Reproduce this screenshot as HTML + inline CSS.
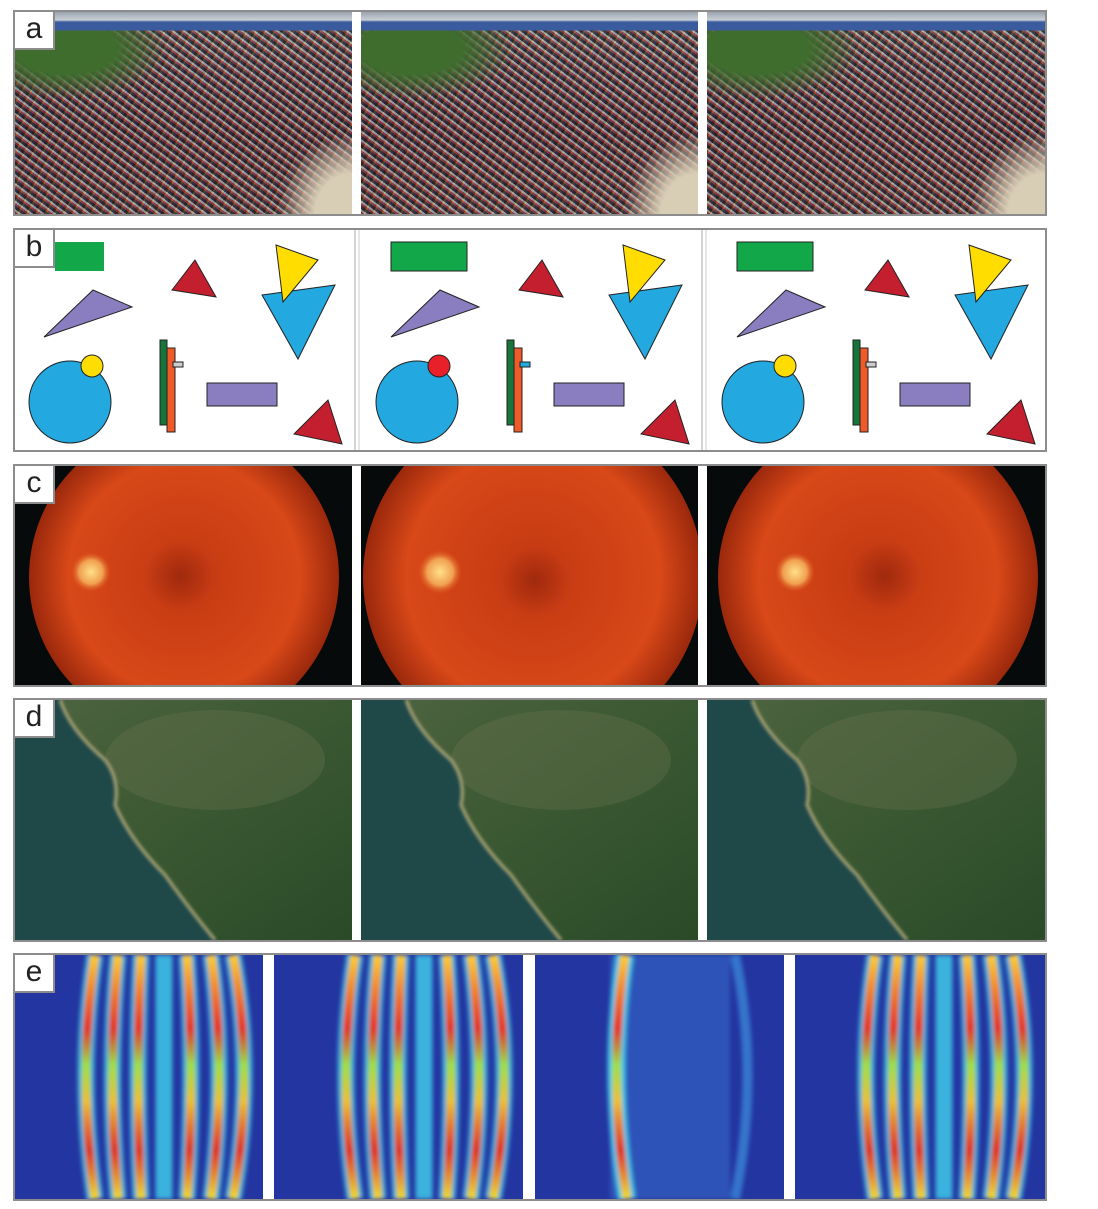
<!DOCTYPE html>
<html><head><meta charset="utf-8"><style>
html,body{margin:0;padding:0;background:#fff;}
body{width:1098px;height:1209px;position:relative;overflow:hidden;font-family:"Liberation Sans",sans-serif;}
.panel{position:absolute;left:13px;width:1030px;border:2px solid #8c8c8c;background:#fff;}
.img{position:absolute;top:0;bottom:0;overflow:hidden;}
.lbl{position:absolute;left:0;top:0;width:38px;height:36px;background:#fff;border-right:2px solid #8c8c8c;border-bottom:2px solid #8c8c8c;font-size:30px;line-height:34px;text-align:center;color:#222;z-index:5;}
.crowd{background:
 linear-gradient(180deg,#9aa3ad 0,#c9ced6 8px,#3a5b9e 10px,#3a5b9e 18px,transparent 19px),
 radial-gradient(ellipse 30% 25% at 15% 18%,#3f6d2e 0,#3f6d2e 50%,transparent 100%),
 radial-gradient(ellipse 22% 40% at 100% 100%,#d8cdb5 0,#d8cdb5 50%,transparent 100%),
 repeating-linear-gradient(37deg,rgba(210,40,40,.45) 0 2px,rgba(245,245,245,.45) 2px 4px,rgba(20,20,30,.5) 4px 7px),
 repeating-linear-gradient(-61deg,rgba(60,80,170,.35) 0 3px,rgba(240,200,60,.3) 3px 5px,rgba(20,20,20,.4) 5px 8px),
 linear-gradient(180deg,#6b7a63 0,#555 25%,#4a3d3d 60%,#5a5048 100%);}
</style></head><body>

<!-- panel a -->
<div class="panel" style="top:10px;height:202px;">
 <div class="lbl">a</div>
 <div class="img crowd" style="left:0;width:337px;"></div>
 <div class="img crowd" style="left:346px;width:337px;"></div>
 <div class="img crowd" style="left:692px;width:338px;"></div>
</div>

<!-- panel b -->
<div class="panel" style="top:228px;height:220px;">
 <div class="lbl">b</div>
 <svg width="1030" height="220" style="position:absolute;left:0;top:0">
  <line x1="340" y1="0" x2="340" y2="220" stroke="#aaa" stroke-width="1"/><line x1="344" y1="0" x2="344" y2="220" stroke="#ccc" stroke-width="1"/>
  <line x1="687" y1="0" x2="687" y2="220" stroke="#aaa" stroke-width="1"/><line x1="691" y1="0" x2="691" y2="220" stroke="#ccc" stroke-width="1"/>
  <g transform="translate(-15,-228)" stroke="#222" stroke-width="1">
   <rect x="55" y="240" width="49" height="29" fill="#12a84a" stroke="none"/>
   <polygon points="172,288 195,258 216,295" fill="#c41f2e"/>
   <polygon points="44,335 93,288 132,305" fill="#8a7ec0"/>
   <polygon points="262,293 335,283 298,357" fill="#23a8e0"/>
   <polygon points="276,243 318,258 283,300" fill="#ffdd00"/>
   <circle cx="70" cy="400" r="41" fill="#23a8e0"/>
   <circle cx="92" cy="364" r="11" fill="#ffdd00"/>
   <rect x="160" y="338" width="7" height="85" fill="#17743a"/>
   <rect x="167" y="346" width="8" height="84" fill="#ef5a28"/>
   <rect x="173" y="360" width="10" height="5" fill="#ccc"/>
   <rect x="207" y="381" width="70" height="23" fill="#8a7ec0"/>
   <polygon points="294,432 328,398 342,442" fill="#c41f2e"/>
  </g>
  <g transform="translate(332,-228)" stroke="#222" stroke-width="1">
   <rect x="44" y="240" width="76" height="29" fill="#12a84a"/>
   <polygon points="172,288 195,258 216,295" fill="#c41f2e"/>
   <polygon points="44,335 93,288 132,305" fill="#8a7ec0"/>
   <polygon points="262,293 335,283 298,357" fill="#23a8e0"/>
   <polygon points="276,243 318,258 283,300" fill="#ffdd00"/>
   <circle cx="70" cy="400" r="41" fill="#23a8e0"/>
   <circle cx="92" cy="364" r="11" fill="#e8202a"/>
   <rect x="160" y="338" width="7" height="85" fill="#17743a"/>
   <rect x="167" y="346" width="8" height="84" fill="#ef5a28"/>
   <rect x="173" y="360" width="10" height="5" fill="#23a8e0"/>
   <rect x="207" y="381" width="70" height="23" fill="#8a7ec0"/>
   <polygon points="294,432 328,398 342,442" fill="#c41f2e"/>
  </g>
  <g transform="translate(678,-228)" stroke="#222" stroke-width="1">
   <rect x="44" y="240" width="76" height="29" fill="#12a84a"/>
   <polygon points="172,288 195,258 216,295" fill="#c41f2e"/>
   <polygon points="44,335 93,288 132,305" fill="#8a7ec0"/>
   <polygon points="262,293 335,283 298,357" fill="#23a8e0"/>
   <polygon points="276,243 318,258 283,300" fill="#ffdd00"/>
   <circle cx="70" cy="400" r="41" fill="#23a8e0"/>
   <circle cx="92" cy="364" r="11" fill="#ffdd00"/>
   <rect x="160" y="338" width="7" height="85" fill="#17743a"/>
   <rect x="167" y="346" width="8" height="84" fill="#ef5a28"/>
   <rect x="173" y="360" width="10" height="5" fill="#ccc"/>
   <rect x="207" y="381" width="70" height="23" fill="#8a7ec0"/>
   <polygon points="294,432 328,398 342,442" fill="#c41f2e"/>
  </g>
 </svg>
</div>

<!-- panel c -->
<div class="panel" style="top:464px;height:219px;">
 <div class="lbl">c</div>
 <svg width="1030" height="219" style="position:absolute;left:0;top:0">
  <defs>
   <radialGradient id="fg" cx="0.5" cy="0.5" r="0.5"><stop offset="0" stop-color="#c23812"/><stop offset="0.75" stop-color="#d84818"/><stop offset="1" stop-color="#9a280c"/></radialGradient>
   <radialGradient id="disc"><stop offset="0" stop-color="#ffe08a"/><stop offset="0.6" stop-color="#f0a050"/><stop offset="1" stop-color="#e25a20" stop-opacity="0"/></radialGradient>
   <radialGradient id="fov"><stop offset="0" stop-color="#8a200a" stop-opacity=".6"/><stop offset="1" stop-color="#8a200a" stop-opacity="0"/></radialGradient>
  </defs>
  <rect x="0" y="0" width="337" height="219" fill="#060a0a"/>
  <rect x="346" y="0" width="337" height="219" fill="#060a0a"/>
  <rect x="692" y="0" width="338" height="219" fill="#060a0a"/>
  <clipPath id="c1"><rect x="0" y="0" width="337" height="219"/></clipPath>
  <clipPath id="c2"><rect x="346" y="0" width="337" height="219"/></clipPath>
  <clipPath id="c3"><rect x="692" y="0" width="338" height="219"/></clipPath>
  <g clip-path="url(#c1)"><circle cx="169" cy="111" r="155" fill="url(#fg)"/><circle cx="76" cy="106" r="20" fill="url(#disc)"/><circle cx="165" cy="110" r="35" fill="url(#fov)"/></g>
  <g clip-path="url(#c2)"><circle cx="518" cy="111" r="170" fill="url(#fg)"/><circle cx="425" cy="106" r="22" fill="url(#disc)"/><circle cx="520" cy="115" r="35" fill="url(#fov)"/></g>
  <g clip-path="url(#c3)"><circle cx="863" cy="111" r="160" fill="url(#fg)"/><circle cx="780" cy="106" r="20" fill="url(#disc)"/><circle cx="870" cy="110" r="35" fill="url(#fov)"/></g>
 </svg>
</div>

<!-- panel d -->
<div class="panel" style="top:698px;height:240px;">
 <div class="lbl">d</div>
 <svg width="1030" height="240" style="position:absolute;left:0;top:0">
  <defs>
   <linearGradient id="land" x1="0" y1="0" x2="1" y2="1"><stop offset="0" stop-color="#4e6440"/><stop offset="0.5" stop-color="#3a5832"/><stop offset="1" stop-color="#2a4a28"/></linearGradient>
   <filter id="sb"><feGaussianBlur stdDeviation="1.5"/></filter>
   <g id="sat">
    <rect x="0" y="0" width="338" height="240" fill="url(#land)"/>
    <ellipse cx="200" cy="60" rx="110" ry="50" fill="#6a7250" opacity=".35"/>
    <path d="M0 0 L45 0 Q55 30 90 60 Q105 80 100 105 Q115 140 150 175 Q175 210 200 240 L0 240 Z" fill="#1f4848"/>
    <path d="M45 0 Q55 30 90 60 Q105 80 100 105 Q115 140 150 175 Q175 210 200 240" fill="none" stroke="#b0a878" stroke-width="3" filter="url(#sb)"/>
   </g>
  </defs>
  <use href="#sat" x="0"/>
  <use href="#sat" x="346"/>
  <use href="#sat" x="692"/>
  <rect x="337" y="0" width="9" height="240" fill="#fff"/>
  <rect x="683" y="0" width="9" height="240" fill="#fff"/>
 </svg>
</div>

<!-- panel e -->
<div class="panel" style="top:953px;height:244px;">
 <div class="lbl">e</div>
 <svg width="1030" height="244" style="position:absolute;left:0;top:0">
  <defs>
   <filter id="bl"><feGaussianBlur stdDeviation="2"/></filter>
   <linearGradient id="st" x1="0" y1="0" x2="0" y2="1"><stop offset="0" stop-color="#ffd020"/><stop offset="0.3" stop-color="#e83010"/><stop offset="0.45" stop-color="#a0e040"/><stop offset="0.6" stop-color="#f0c020"/><stop offset="0.8" stop-color="#e03010"/><stop offset="1" stop-color="#f0e020"/></linearGradient>
  </defs>
  <rect x="0" y="0" width="248" height="244" fill="#2335a0"/>
  <rect x="259" y="0" width="249" height="244" fill="#2335a0"/>
  <rect x="520" y="0" width="249" height="244" fill="#2335a0"/>
  <rect x="780" y="0" width="250" height="244" fill="#2335a0"/>
  <g id="stripes" filter="url(#bl)" fill="none">
   <g stroke="#40c8e8" stroke-width="17" opacity=".85">
    <path d="M80 0 Q62 120 80 244"/><path d="M103 0 Q92 120 103 244"/><path d="M126 0 Q120 120 126 244"/><path d="M149 0 Q149 120 149 244"/><path d="M172 0 Q180 120 172 244"/><path d="M196 0 Q212 120 196 244"/><path d="M218 0 Q240 120 218 244"/>
   </g>
   <g stroke="url(#st)" stroke-width="9">
    <path d="M80 0 Q62 120 80 244"/><path d="M103 0 Q92 120 103 244"/><path d="M126 0 Q120 120 126 244"/><path d="M149 0 Q149 120 149 244"/><path d="M172 0 Q180 120 172 244"/><path d="M196 0 Q212 120 196 244"/><path d="M218 0 Q240 120 218 244"/>
   </g>
  </g>
  <use href="#stripes" x="260"/>
  <use href="#stripes" x="780"/>
  <g filter="url(#bl)" fill="none">
   <rect x="595" y="0" width="120" height="244" fill="#3a70d0" opacity=".5"/>
   <path d="M610 0 Q592 120 612 244" stroke="#40c8e8" stroke-width="18"/>
   <path d="M610 0 Q592 120 612 244" stroke="url(#st)" stroke-width="9"/>
   <path d="M720 0 Q745 120 720 244" stroke="#40a0e8" stroke-width="10" opacity=".6"/>
  </g>
  <rect x="248" y="0" width="11" height="244" fill="#fff"/>
  <rect x="508" y="0" width="12" height="244" fill="#fff"/>
  <rect x="769" y="0" width="11" height="244" fill="#fff"/>
 </svg>
</div>

</body></html>
